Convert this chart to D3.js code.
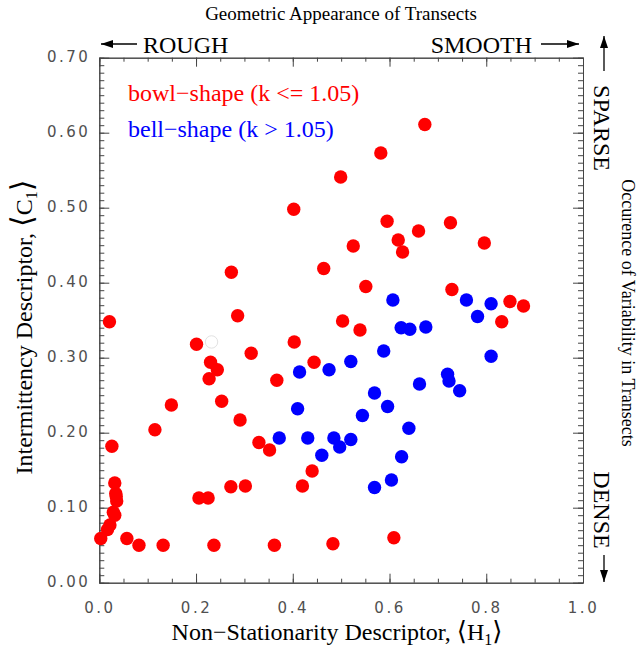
<!DOCTYPE html>
<html>
<head>
<meta charset="utf-8">
<script src="https://cdn.jsdelivr.net/npm/d3@7"></script>
<style>
  html, body { margin: 0; padding: 0; background: #fff; }
  svg { display: block; }
  .serif { font-family: "Liberation Serif", "Times New Roman", serif; }
  .tick text { font-family: "DejaVu Sans", sans-serif; font-size: 15px; fill: #505050; letter-spacing: 2.5px; }
  .axis path, .axis line { stroke: #444; }
</style>
</head>
<body>
<svg id="chart" width="642" height="654"></svg>
<script>
// bowl-shape transects (k <= 1.05)
const bowlH = [0.499, 0.402, 0.273, 0.464, 0.673, 0.582, 0.595, 0.525, 0.618, 0.627,
               0.660, 0.726, 0.796, 0.551, 0.729, 0.849, 0.877, 0.832, 0.503, 0.539,
               0.483, 0.609, 0.021, 0.286, 0.201, 0.403, 0.314, 0.230, 0.244, 0.227,
               0.444, 0.367, 0.149, 0.253, 0.291, 0.115, 0.330, 0.352, 0.026, 0.440,
               0.032, 0.420, 0.272, 0.302, 0.034, 0.035, 0.036, 0.206, 0.225, 0.029,
               0.032, 0.022, 0.017, 0.003, 0.057, 0.082, 0.132, 0.237, 0.362];
const bowlC = [0.541, 0.498, 0.414, 0.419, 0.611, 0.573, 0.482, 0.449, 0.457, 0.441,
               0.469, 0.480, 0.453, 0.395, 0.391, 0.375, 0.369, 0.348, 0.349, 0.337,
               0.052, 0.060, 0.348, 0.356, 0.318, 0.321, 0.306, 0.294, 0.284, 0.272,
               0.294, 0.270, 0.237, 0.242, 0.217, 0.204, 0.187, 0.177, 0.182, 0.149,
               0.133, 0.129, 0.128, 0.129, 0.119, 0.115, 0.109, 0.113, 0.113, 0.094,
               0.090, 0.077, 0.071, 0.059, 0.059, 0.050, 0.050, 0.050, 0.050];

// bell-shape transects (k > 1.05)
const bellH = [0.607, 0.759, 0.810, 0.782, 0.624, 0.642, 0.675, 0.588, 0.520, 0.475,
               0.810, 0.720, 0.723, 0.745, 0.662, 0.569, 0.596, 0.544, 0.640, 0.485,
               0.497, 0.520, 0.625, 0.604, 0.569, 0.414, 0.410, 0.372, 0.431, 0.460];
const bellC = [0.377, 0.377, 0.372, 0.355, 0.340, 0.338, 0.341, 0.309, 0.295, 0.284,
               0.302, 0.278, 0.269, 0.256, 0.265, 0.253, 0.235, 0.223, 0.206, 0.193,
               0.181, 0.191, 0.168, 0.137, 0.127, 0.281, 0.232, 0.193, 0.193, 0.170];

// one blank (unfilled) marker
const blankH = [0.232];
const blankC = [0.321];

const xMajor = [0.0, 0.2, 0.4, 0.6, 0.8, 1.0];
const yMajor = [0.0, 0.1, 0.2, 0.3, 0.4, 0.5, 0.6, 0.7];

const margin = { l: 99.3, t: 57.7, r: 59, b: 71.3 };

const svg = d3.select('#chart');
const width  = +svg.attr('width');
const height = +svg.attr('height');
const r = width - margin.r;
const b = height - margin.b;

const x = d3.scaleLinear().domain([0, 1]).range([margin.l, r]);
const y = d3.scaleLinear().domain([0, 0.7]).range([b, margin.t]);

const xMinor = d3.range(0, 1.0001, 0.05).map(v => +v.toFixed(2));
const yMinor = d3.range(0, 0.7001, 0.01).map(v => +v.toFixed(2));

// minor ticks first, all four sides, pointing inward
svg.append('g').attr('class', 'axis')
    .attr('transform', `translate(0,${b})`)
    .call(d3.axisBottom(x).tickValues(xMinor).tickSize(-4).tickSizeOuter(0).tickFormat(''));
svg.append('g').attr('class', 'axis')
    .attr('transform', `translate(0,${margin.t})`)
    .call(d3.axisTop(x).tickValues(xMinor).tickSize(-4).tickSizeOuter(0).tickFormat(''));
svg.append('g').attr('class', 'axis')
    .attr('transform', `translate(${margin.l},0)`)
    .call(d3.axisLeft(y).tickValues(yMinor).tickSize(-5).tickSizeOuter(0).tickFormat(''));
svg.append('g').attr('class', 'axis')
    .attr('transform', `translate(${r},0)`)
    .call(d3.axisRight(y).tickValues(yMinor).tickSize(-5).tickSizeOuter(0).tickFormat(''));

// major ticks + labels
svg.append('g').attr('class', 'axis')
    .attr('transform', `translate(0,${b})`)
    .call(d3.axisBottom(x).tickValues(xMajor).tickSize(-9).tickSizeOuter(0)
        .tickPadding(20).tickFormat(d3.format('.1f')));
svg.append('g').attr('class', 'axis')
    .attr('transform', `translate(0,${margin.t})`)
    .call(d3.axisTop(x).tickValues(xMajor).tickSize(-9).tickSizeOuter(0).tickFormat(''));
const yAx = svg.append('g').attr('class', 'axis')
    .attr('transform', `translate(${margin.l},0)`)
    .call(d3.axisLeft(y).tickValues(yMajor).tickSize(-10).tickSizeOuter(0)
        .tickPadding(9).tickFormat(d3.format('.2f')));
yAx.selectAll('text').attr('dy', '0.25em');
svg.append('g').attr('class', 'axis')
    .attr('transform', `translate(${r},0)`)
    .call(d3.axisRight(y).tickValues(yMajor).tickSize(-10).tickSizeOuter(0).tickFormat(''));

// points
const rad = 6.7;
svg.append('g').selectAll('circle')
    .data(d3.zip(bowlH, bowlC))
    .join('circle')
    .attr('cx', d => x(d[0]))
    .attr('cy', d => y(d[1]))
    .attr('r', rad)
    .attr('fill', '#ff0000');

svg.append('g').selectAll('circle')
    .data(d3.zip(bellH, bellC))
    .join('circle')
    .attr('cx', d => x(d[0]))
    .attr('cy', d => y(d[1]))
    .attr('r', rad)
    .attr('fill', '#0000ff');

svg.append('g').selectAll('circle')
    .data(d3.zip(blankH, blankC))
    .join('circle')
    .attr('cx', d => x(d[0]))
    .attr('cy', d => y(d[1]))
    .attr('r', rad - 0.5)
    .attr('fill', '#fff')
    .attr('stroke', '#e2e2e2');

// legend
svg.append('text').attr('class', 'serif')
    .attr('x', 128).attr('y', 101)
    .attr('font-size', 24).attr('fill', '#ff0000')
    .text('bowl\u2212shape (k <= 1.05)');
svg.append('text').attr('class', 'serif')
    .attr('x', 128).attr('y', 137)
    .attr('font-size', 24).attr('fill', '#0000ff')
    .text('bell\u2212shape (k > 1.05)');

// axis titles
const xt = svg.append('text').attr('class', 'serif')
    .attr('x', 337).attr('y', 640)
    .attr('font-size', 24).attr('text-anchor', 'middle');
xt.append('tspan').text('Non\u2212Stationarity Descriptor, ');
xt.append('tspan').attr('font-size', 26).attr('font-family', 'DejaVu Serif').text('\u27E8');
xt.append('tspan').text('H');
xt.append('tspan').attr('font-size', 16).attr('dy', 5).text('1');
xt.append('tspan').attr('font-size', 26).attr('dy', -5).attr('font-family', 'DejaVu Serif').text('\u27E9');

const yt = svg.append('text').attr('class', 'serif')
    .attr('transform', 'translate(32,327) rotate(-90)')
    .attr('font-size', 24).attr('text-anchor', 'middle');
yt.append('tspan').text('Intermittency Descriptor, ');
yt.append('tspan').attr('font-size', 30).attr('font-family', 'DejaVu Serif').text('\u27E8');
yt.append('tspan').text('C');
yt.append('tspan').attr('font-size', 16).attr('dy', 5).text('1');
yt.append('tspan').attr('font-size', 30).attr('dy', -5).attr('font-family', 'DejaVu Serif').text('\u27E9');

// top annotations
svg.append('text').attr('class', 'serif')
    .attr('x', 341).attr('y', 20)
    .attr('font-size', 19).attr('text-anchor', 'middle')
    .text('Geometric Appearance of Transects');
svg.append('text').attr('class', 'serif')
    .attr('x', 143).attr('y', 53).attr('font-size', 24).text('ROUGH');
svg.append('text').attr('class', 'serif')
    .attr('x', 532).attr('y', 53).attr('font-size', 24).attr('text-anchor', 'end').text('SMOOTH');

// right annotations
svg.append('text').attr('class', 'serif')
    .attr('transform', 'translate(594,128) rotate(90)')
    .attr('font-size', 24).attr('text-anchor', 'middle').text('SPARSE');
svg.append('text').attr('class', 'serif')
    .attr('transform', 'translate(594,510) rotate(90)')
    .attr('font-size', 24).attr('text-anchor', 'middle').text('DENSE');
svg.append('text').attr('class', 'serif')
    .attr('transform', 'translate(622,313) rotate(90)')
    .attr('font-size', 18).attr('text-anchor', 'middle')
    .text('Occurence of Variability in Transects');

// arrows
const arrow = (x1, y1, x2, y2) => {
    svg.append('line')
        .attr('x1', x1).attr('y1', y1).attr('x2', x2).attr('y2', y2)
        .attr('stroke', '#000').attr('stroke-width', 1.3);
    const a = Math.atan2(y2 - y1, x2 - x1);
    const len = 12, w = 4;
    const p = [
        [x2, y2],
        [x2 - len * Math.cos(a) + w * Math.sin(a), y2 - len * Math.sin(a) - w * Math.cos(a)],
        [x2 - len * Math.cos(a) - w * Math.sin(a), y2 - len * Math.sin(a) + w * Math.cos(a)]
    ];
    svg.append('path').attr('d', d3.line()(p) + 'Z').attr('fill', '#000');
};
arrow(137, 44, 101, 44);
arrow(541, 44, 579, 44);
arrow(604, 71, 604, 36);
arrow(604, 555, 604, 582);
</script>
</body>
</html>
